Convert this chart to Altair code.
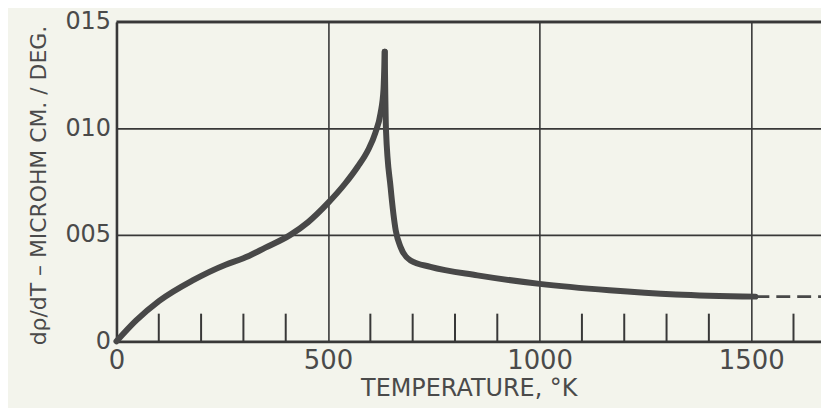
import altair as alt
import pandas as pd

# Curve: temperature (K) vs d(rho)/dT (microohm cm / deg)
# rising part up to the peak, then falling part after the peak
rise_temp = [0, 46, 101, 179, 258, 300, 352, 411, 453, 500, 540, 570, 595, 612, 624, 631, 634]
rise_drho = [0.0, 0.00097, 0.0019, 0.00285, 0.0036, 0.0039, 0.0044, 0.0050, 0.0056, 0.0065,
             0.0074, 0.0082, 0.0090, 0.0098, 0.0107, 0.0118, 0.0136]
fall_temp = [634, 637, 648, 660, 672, 695, 742, 853, 1000, 1165, 1322, 1510]
fall_drho = [0.0136, 0.0099, 0.0072, 0.0052, 0.0044, 0.0038, 0.0035, 0.0031, 0.0027,
             0.0024, 0.0022, 0.0021]

# dashed extrapolation
dash_temp = [1510, 1665]
dash_drho = [0.0021, 0.0021]

# minor ticks along the temperature axis
minor_ticks = [100, 200, 300, 400, 600, 700, 800, 900, 1100, 1200, 1300, 1400, 1600]
minor_len = 0.0013

x_ticks = [0, 500, 1000, 1500]
y_ticks = [0, 0.005, 0.010, 0.015]
XMAX = 1665
YMAX = 0.015

INK = "#383838"
TXT = "#4a4a4a"
BG = "#f3f4ec"
FONT = "DejaVu Sans"

df = pd.DataFrame({
    "T": rise_temp + fall_temp,
    "d": rise_drho + fall_drho,
    "branch": [0] * len(rise_temp) + [1] * len(fall_temp),
})
df_dash = pd.DataFrame({"T": dash_temp, "d": dash_drho})
df_ticks = pd.DataFrame({"T": minor_ticks, "y0": [0] * len(minor_ticks),
                         "y1": [minor_len] * len(minor_ticks)})
df_top = pd.DataFrame({"x0": [0], "x1": [XMAX], "y": [YMAX]})

xscale = alt.Scale(domain=[0, XMAX], nice=False, zero=False)
yscale = alt.Scale(domain=[0, YMAX], nice=False)

xaxis = alt.Axis(values=x_ticks, format="d", grid=True, gridColor=INK, gridWidth=1.6,
                 gridOpacity=1, ticks=False, domainColor=INK, domainWidth=2.6,
                 labelFont=FONT, labelFontSize=26, labelColor=TXT,
                 labelPadding=6, labelFlush=False,
                 title="TEMPERATURE, °K", titleFont=FONT, titleFontSize=24,
                 titleFontWeight="normal", titleColor=TXT, titlePadding=3)
yaxis = alt.Axis(values=y_ticks, grid=True, gridColor=INK, gridWidth=1.6, gridOpacity=1,
                 ticks=False, domainColor=INK, domainWidth=2.6, labelFont=FONT,
                 labelFontSize=24, labelColor=TXT, labelPadding=6,
                 labelExpr="datum.value == 0 ? '0' : replace(format(datum.value, '.3f'), '0.', '')",
                 title="dρ/dT – MICROHM CM. / DEG.", titleFont=FONT, titleFontSize=22,
                 titleFontWeight="normal", titleColor=TXT, titleX=-66, titleY=164)

curve = alt.Chart(df).mark_line(color="#484848", strokeWidth=6, strokeCap="round",
                                strokeJoin="round", interpolate="monotone").encode(
    x=alt.X("T:Q", scale=xscale, axis=xaxis),
    y=alt.Y("d:Q", scale=yscale, axis=yaxis),
    detail="branch:N",
)

ticks = alt.Chart(df_ticks).mark_rule(color=INK, strokeWidth=2).encode(
    x=alt.X("T:Q", scale=xscale),
    y=alt.Y("y0:Q", scale=yscale),
    y2="y1:Q",
)

dash = alt.Chart(df_dash).mark_line(color="#484848", strokeWidth=3,
                                    strokeDash=[14, 7]).encode(
    x=alt.X("T:Q", scale=xscale),
    y=alt.Y("d:Q", scale=yscale),
)

top = alt.Chart(df_top).mark_rule(color=INK, strokeWidth=2.6).encode(
    x=alt.X("x0:Q", scale=xscale),
    x2="x1:Q",
    y=alt.Y("y:Q", scale=yscale),
)

chart = alt.layer(ticks, top, dash, curve).properties(
    width=708, height=321,
    padding={"left": 109, "top": 13, "right": 0, "bottom": 66},
    autosize="none",
    background=BG,
).configure_view(stroke=None)

chart.save("out.html", embed_options={"renderer": "svg", "actions": False})
